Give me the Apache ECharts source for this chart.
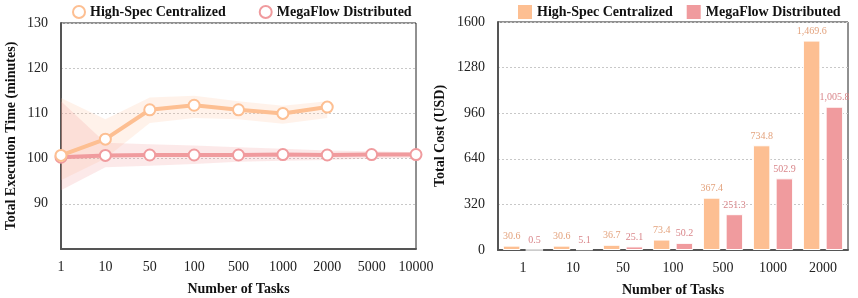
<!DOCTYPE html>
<html><head><meta charset="utf-8">
<script src="https://cdn.jsdelivr.net/npm/echarts@6/dist/echarts.min.js"></script>
<style>html,body{margin:0;padding:0;background:#fff}#c{width:858px;height:298px}</style>
</head><body><div id="c"></div>
<script>
const taskLabels = ['1','10','50','100','500','1000','2000','5000','10000'];
const centralTime = [100.7, 104.3, 110.8, 111.8, 110.8, 110.0, 111.4];
const centralLow  = [95.2, 100.0, 107.9, 109.0, 108.7, 107.7, 109.0];
const centralHigh = [113.4, 108.7, 113.5, 113.9, 112.7, 111.7, 112.7];
const megaTime = [100.3, 100.7, 100.8, 100.8, 100.8, 100.9, 100.8, 100.9, 100.9];
const megaLow  = [93.0, 98.1, 98.4, 98.8, 99.3, 99.5, 99.7, 100.0, 100.2];
const megaHigh = [112.7, 103.5, 103.2, 102.9, 102.5, 102.2, 101.8, 101.6, 101.4];
const timeTicks = [80, 90, 100, 110, 120, 130];

const costLabels = ['1','10','50','100','500','1000','2000'];
const centralCost = [30.6, 30.6, 36.7, 73.4, 367.4, 734.8, 1469.6];
const megaCost = [0.5, 5.1, 25.1, 50.2, 251.3, 502.9, 1005.8];
const costTicks = [0, 320, 640, 960, 1280, 1600];

const ORANGE = '#FDBF92', PINK = '#F09B9E';
const FONT = '"Liberation Serif","Times New Roman",serif';
const chart = echarts.init(document.getElementById('c'));
const diff = (hi, lo) => hi.map((v, i) => +(v - lo[i]).toFixed(2));
const fmt = v => v.toLocaleString('en-US', {minimumFractionDigits: 1, maximumFractionDigits: 1});

const axisLab = {fontFamily: FONT, fontSize: 14, color: '#222'};
const nameSt = {fontFamily: FONT, fontSize: 14, fontWeight: 'bold', color: '#111'};
const splitL = {show: true, lineStyle: {color: '#c8c8c8', type: [2, 2], width: 1}};

chart.setOption({
  animation: false,
  textStyle: {fontFamily: FONT},
  legend: [
    {left: 67, top: 0, itemGap: 33, itemWidth: 12, itemHeight: 12,
     textStyle: {fontFamily: FONT, fontSize: 14, fontWeight: 'bold', color: '#111'},
     data: [
       {name: 'High-Spec Centralized', icon: 'circle', itemStyle: {color: '#fff', borderColor: ORANGE, borderWidth: 2}},
       {name: 'MegaFlow Distributed', icon: 'circle', itemStyle: {color: '#fff', borderColor: PINK, borderWidth: 2}}
     ], selectedMode: false},
    {left: 513, top: 0, itemGap: 14, itemWidth: 14, itemHeight: 14,
     textStyle: {fontFamily: FONT, fontSize: 14, fontWeight: 'bold', color: '#111'},
     data: [
       {name: 'High-Spec Centralized', icon: 'rect', itemStyle: {color: ORANGE, borderWidth: 0}},
       {name: 'MegaFlow Distributed', icon: 'rect', itemStyle: {color: PINK, borderWidth: 0}}
     ], selectedMode: false}
  ],
  grid: [
    {left: 61, right: 442, top: 23, bottom: 49, show: true, borderColor: '#222', borderWidth: 1, outerBoundsMode: 'none', containLabel: false},
    {left: 498, right: 10, top: 22, bottom: 48, show: true, borderColor: '#222', borderWidth: 1, outerBoundsMode: 'none', containLabel: false}
  ],
  xAxis: [
    {type: 'category', gridIndex: 0, data: taskLabels, boundaryGap: false,
     axisLine: {lineStyle: {color: '#555', width: 2}}, axisTick: {show: false},
     axisLabel: Object.assign({margin: 11, interval: 0}, axisLab),
     name: 'Number of Tasks', nameLocation: 'middle', nameGap: 33, nameTextStyle: nameSt},
    {type: 'category', gridIndex: 1, data: costLabels, boundaryGap: true,
     axisLine: {lineStyle: {color: '#555', width: 2}}, axisTick: {show: false},
     axisLabel: Object.assign({margin: 11, interval: 0}, axisLab),
     name: 'Number of Tasks', nameLocation: 'middle', nameGap: 33, nameTextStyle: nameSt}
  ],
  yAxis: [
    {type: 'value', gridIndex: 0, min: timeTicks[0], max: timeTicks[timeTicks.length - 1], interval: 10,
     axisLine: {show: true, lineStyle: {color: '#555', width: 2}}, axisTick: {show: false},
     axisLabel: Object.assign({margin: 13, showMinLabel: false, formatter: v => String(v)}, axisLab), splitLine: splitL,
     name: 'Total Execution Time (minutes)', nameLocation: 'middle', nameGap: 43, nameTextStyle: nameSt},
    {type: 'value', gridIndex: 1, min: costTicks[0], max: costTicks[costTicks.length - 1], interval: 320,
     axisLine: {show: true, lineStyle: {color: '#555', width: 2}}, axisTick: {show: false},
     axisLabel: Object.assign({margin: 13, formatter: v => String(v)}, axisLab), splitLine: splitL,
     name: 'Total Cost (USD)', nameLocation: 'middle', nameGap: 51, nameTextStyle: nameSt}
  ],
  series: [
    {name: 'cBase', type: 'line', xAxisIndex: 0, yAxisIndex: 0, stack: 'cband', data: centralLow,
     symbol: 'none', lineStyle: {opacity: 0}, silent: true, z: 1},
    {name: 'cBand', type: 'line', xAxisIndex: 0, yAxisIndex: 0, stack: 'cband', data: diff(centralHigh, centralLow),
     symbol: 'none', lineStyle: {opacity: 0}, areaStyle: {color: 'rgba(253,191,146,0.28)'}, silent: true, z: 1},
    {name: 'mBase', type: 'line', xAxisIndex: 0, yAxisIndex: 0, stack: 'mband', data: megaLow,
     symbol: 'none', lineStyle: {opacity: 0}, silent: true, z: 2},
    {name: 'mBand', type: 'line', xAxisIndex: 0, yAxisIndex: 0, stack: 'mband', data: diff(megaHigh, megaLow),
     symbol: 'none', lineStyle: {opacity: 0}, areaStyle: {color: 'rgba(240,150,150,0.3)'}, silent: true, z: 2},
    {name: 'MegaFlow Distributed', type: 'line', xAxisIndex: 0, yAxisIndex: 0, data: megaTime,
     symbol: 'circle', symbolSize: 11, lineStyle: {color: PINK, width: 4},
     itemStyle: {color: '#fff', borderColor: PINK, borderWidth: 2}, z: 3},
    {name: 'High-Spec Centralized', type: 'line', xAxisIndex: 0, yAxisIndex: 0, data: centralTime,
     symbol: 'circle', symbolSize: 11, lineStyle: {color: ORANGE, width: 4},
     itemStyle: {color: '#fff', borderColor: ORANGE, borderWidth: 2}, z: 4},
    {name: 'High-Spec Centralized', type: 'bar', xAxisIndex: 1, yAxisIndex: 1, data: centralCost,
     barWidth: '35%', barGap: '30%', itemStyle: {color: ORANGE, borderColor: '#fff', borderWidth: 1},
     label: {show: true, position: 'top', distance: 4, fontFamily: FONT, fontSize: 10, color: '#E3A27C',
             formatter: p => fmt(p.value)}},
    {name: 'MegaFlow Distributed', type: 'bar', xAxisIndex: 1, yAxisIndex: 1, data: megaCost,
     barWidth: '35%', barGap: '30%', itemStyle: {color: PINK, borderColor: '#fff', borderWidth: 1},
     label: {show: true, position: 'top', distance: 4, fontFamily: FONT, fontSize: 10, color: '#D9868A',
             formatter: p => fmt(p.value)}}
  ]
});
</script></body></html>
